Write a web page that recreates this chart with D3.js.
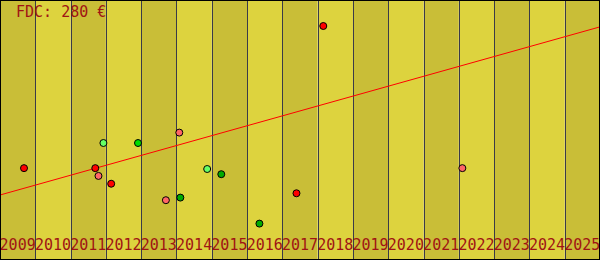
<!DOCTYPE html>
<html>
<head>
<meta charset="utf-8">
<script src="https://cdn.jsdelivr.net/npm/d3@7"></script>
<style>
  body { margin: 0; background: #fff; }
  svg { display: block; }
  text { font-family: "DejaVu Sans Mono", monospace; }
</style>
</head>
<body>
<svg id="chart" width="600" height="260"></svg>
<script>
// year columns
var years = [2009, 2010, 2011, 2012, 2013, 2014, 2015, 2016, 2017, 2018, 2019, 2020, 2021, 2022, 2023, 2024, 2025];
var title = 'FDC: 280 €';

// sales: date (decimal year), price in €, grade
var saleDates  = [2009.68, 2011.70, 2011.79, 2011.93, 2012.15, 2012.91, 2013.70, 2014.08, 2014.11, 2014.87, 2015.27, 2016.35, 2017.40, 2018.16, 2022.10];
var salePrices = [106, 106, 97, 135, 88, 135, 69, 147, 72, 105, 99, 42, 77, 270, 106];
var saleGrades = ['a', 'a', 'b', 'c', 'a', 'd', 'b', 'b', 'e', 'c', 'e', 'e', 'a', 'a', 'b'];

// trend line ends
var trendYears  = [2009, 2026];
var trendPrices = [75, 269];

var gradeColors = {a: '#ff0000', b: '#ff6666', c: '#66ff66', d: '#00dd00', e: '#00aa00'};

var svg = d3.select('#chart');
const width = +svg.attr('width');
const height = +svg.attr('height');

var x = d3.scaleLinear()
    .domain([years[0], years[years.length - 1] + 1])
    .range([0, width]);
var y = d3.scaleLinear()
    .domain([0, 300])
    .range([height, 0]);

// alternating columns
svg.append('g')
    .selectAll('rect')
    .data(years)
    .enter().append('rect')
        .attr('x', d => x(d))
        .attr('y', 0)
        .attr('width', d => x(d + 1) - x(d))
        .attr('height', height)
        .attr('fill', (d, i) => i % 2 == 0 ? '#c9be37' : '#ddd33e');

// column separators
svg.append('g')
    .selectAll('line')
    .data(years.slice(1))
    .enter().append('line')
        .attr('x1', d => Math.round(x(d)) + 0.5)
        .attr('x2', d => Math.round(x(d)) + 0.5)
        .attr('y1', 0)
        .attr('y2', height)
        .attr('stroke', '#3a3a48')
        .attr('stroke-width', 1);

// year labels
svg.append('g')
    .selectAll('text')
    .data(years)
    .enter().append('text')
        .attr('x', d => x(d + 0.5))
        .attr('y', 250)
        .attr('text-anchor', 'middle')
        .attr('font-size', 15)
        .attr('fill', '#a01414')
        .text(d => d);

// trend
var trend = trendYears.map((d, i) => ({year: d, price: trendPrices[i]}));
svg.append('path')
    .datum(trend)
    .attr('fill', 'none')
    .attr('stroke', '#ff0000')
    .attr('stroke-width', 1)
    .attr('d', d3.line().x(d => x(d.year)).y(d => y(d.price)));

// sales
var sales = saleDates.map((d, i) => ({date: d, price: salePrices[i], grade: saleGrades[i]}));
svg.append('g')
    .selectAll('circle')
    .data(sales)
    .enter().append('circle')
        .attr('cx', d => x(d.date))
        .attr('cy', d => y(d.price))
        .attr('r', 3.5)
        .attr('fill', d => gradeColors[d.grade])
        .attr('stroke', '#000')
        .attr('stroke-width', 1);

svg.append('text')
    .attr('x', 16)
    .attr('y', 17)
    .attr('font-size', 15)
    .attr('fill', '#a01414')
    .text(title);

// frame
svg.append('rect')
    .attr('x', 0.5).attr('y', 0.5)
    .attr('width', width - 1).attr('height', height - 1)
    .attr('fill', 'none')
    .attr('stroke', '#000');
</script>
</body>
</html>
